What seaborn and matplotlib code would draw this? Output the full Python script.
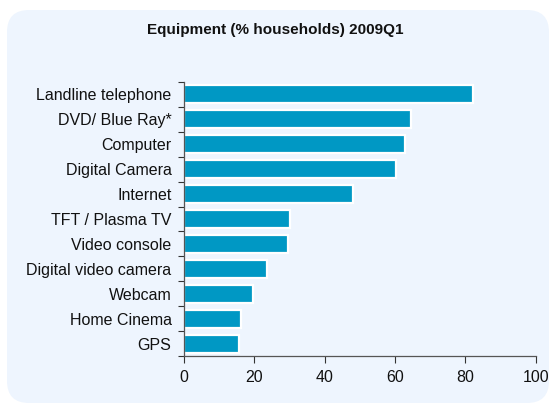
import matplotlib
matplotlib.use("Agg")
import matplotlib.pyplot as plt
from matplotlib.patches import FancyBboxPatch
import seaborn as sns
import pandas as pd
import numpy as np

# Household equipment rates, 2009Q1
categories = ["Landline telephone", "DVD/ Blue Ray*", "Computer", "Digital Camera",
              "Internet", "TFT / Plasma TV", "Video console", "Digital video camera",
              "Webcam", "Home Cinema", "GPS"]
values = [82.1, 64.6, 62.9, 60.4, 48.0, 30.1, 29.7, 23.7, 19.6, 16.3, 15.6]
x_ticks = [0, 20, 40, 60, 80, 100]

sns.set_theme(style="white")
plt.rcParams["font.family"] = ["Liberation Sans", "DejaVu Sans"]

bg = "#EEF5FE"
bar_color = "#0098C4"

fig = plt.figure(figsize=(5.51, 4.05), dpi=100)
fig.patch.set_facecolor("white")

# rounded light panel behind the chart
panel = FancyBboxPatch((7 / 551, 2 / 405), 542 / 551, 393 / 405,
                       boxstyle="round,pad=0,rounding_size=0.04",
                       transform=fig.transFigure, facecolor=bg, edgecolor="none",
                       zorder=-10, mutation_aspect=551 / 405)
fig.patches.append(panel)

ax = fig.add_axes([184 / 551, 1 - 356 / 405, (535.7 - 184) / 551, (356 - 82) / 405])
ax.set_facecolor("none")
ax.set_zorder(5)

df = pd.DataFrame({"item": categories, "pct": values})
sns.barplot(data=df, y="item", x="pct", orient="h", color=bar_color,
            saturation=1, edgecolor="white", linewidth=1.6, width=0.72, ax=ax)

ax.set_xlim(0, 100)
ax.set_ylim(len(categories) - 0.5, -0.5)
ax.set_xticks(x_ticks)
ax.set_xticklabels([str(t) for t in x_ticks], fontsize=11.5, color="#111111")
ax.set_xlabel("")
ax.set_ylabel("")

# category labels without marks; boundary ticks as minor ticks
ax.tick_params(axis="y", which="major", length=0, pad=9, labelsize=11.5, labelcolor="#111111")
ax.set_yticks(np.arange(-0.5, len(categories), 1.0), minor=True)
ax.tick_params(axis="y", which="minor", direction="out", length=4, width=0.8,
               color="#333333", left=True)
ax.tick_params(axis="x", direction="out", length=5, width=0.8, color="#333333",
               bottom=True, pad=5)

for side in ["top", "right"]:
    ax.spines[side].set_visible(False)
for side in ["left", "bottom"]:
    ax.spines[side].set_color("#555555")
    ax.spines[side].set_linewidth(0.9)

fig.text(0.5, 1 - 30 / 405, "Equipment (% households) 2009Q1", ha="center", va="center",
         fontsize=11, fontweight="bold", color="#111111")

fig.savefig("out.png", dpi=100, facecolor="white")
